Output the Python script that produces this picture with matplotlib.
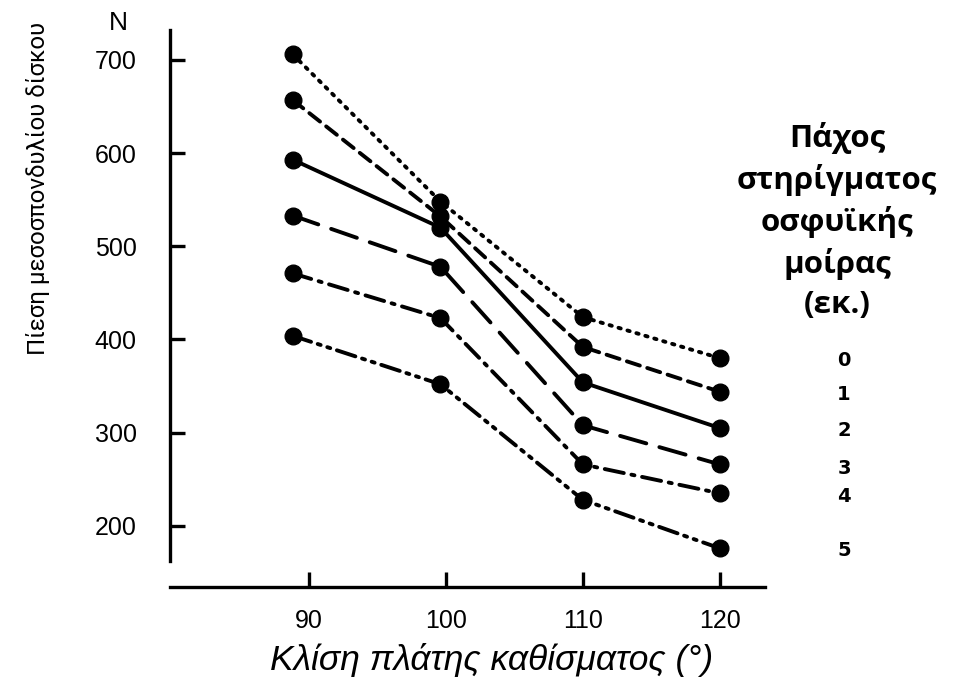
import matplotlib.pyplot as plt

# Seat back inclination (degrees) where the points sit
angles = [88.8, 99.6, 110, 120]
tick_angles = [90, 100, 110, 120]

# Disc pressure (N) for each lumbar support thickness (cm)
thickness_labels = ['0', '1', '2', '3', '4', '5']
p0 = [706, 548, 424, 380]
p1 = [657, 532, 392, 344]
p2 = [593, 520, 354, 305]
p3 = [533, 478, 308, 266]
p4 = [471, 423, 266, 235]
p5 = [404, 352, 228, 176]
series = [p0, p1, p2, p3, p4, p5]

y_ticks = [200, 300, 400, 500, 600, 700]

styles = [
    (0, (0.6, 1.8)),
    (0, (3.5, 2.0)),
    '-',
    (0, (7.0, 3.5)),
    (0, (5.0, 2.0, 0.8, 2.0)),
    (0, (5.0, 1.8, 0.8, 1.8, 0.8, 1.8)),
]

W, H = 955, 684
fig = plt.figure(figsize=(W / 100, H / 100), dpi=100)

# axes box in pixels: left 170, right 765, top 30, bottom 587
ax = fig.add_axes([170 / W, 1 - 587 / H, (765 - 170) / W, (587 - 30) / H])
ax.set_xlim(79.85, 123.3)
ax.set_ylim(134.5, 732)

for vals, ls in zip(series, styles):
    ax.plot(angles, vals, color='black', linestyle=ls, linewidth=2.8,
            marker='o', markersize=12, dash_capstyle='round',
            solid_capstyle='round')

for side in ['top', 'right']:
    ax.spines[side].set_visible(False)
ax.spines['left'].set_linewidth(2.4)
ax.spines['bottom'].set_linewidth(2.4)
ax.spines['left'].set_bounds(162, 732)

ax.set_xticks(tick_angles)
ax.set_xticklabels([str(t) for t in tick_angles])
ax.set_yticks(y_ticks)
ax.set_yticklabels([str(t) for t in y_ticks])
ax.tick_params(axis='both', direction='in', length=11, width=2.4,
               labelsize=18)
ax.tick_params(axis='y', pad=24)
ax.tick_params(axis='x', pad=16)
for lab in ax.get_xticklabels() + ax.get_yticklabels():
    lab.set_fontfamily('Liberation Sans')

fig.text(118 / W, 1 - 23 / H, 'N', fontsize=19, family='Liberation Sans',
         ha='center', va='center')
fig.text(38 / W, 1 - 188 / H, 'Πίεση μεσοσπονδυλίου δίσκου', fontsize=17.3,
         family='Roboto', rotation=90, ha='center', va='center')
fig.text(492 / W, 1 - 660 / H, 'Κλίση πλάτης καθίσματος (°)', fontsize=25.5,
         family='Liberation Sans', style='italic', ha='center', va='center')

fig.text(837 / W, 1 - 221 / H,
         'Πάχος\nστηρίγματος\nοσφυϊκής\nμοίρας\n(εκ.)',
         fontsize=22.5, family='Open Sans', fontweight='bold',
         ha='center', va='center', linespacing=1.4)

# thickness labels beside the line ends
label_y = [360, 394, 430, 469, 496, 551]
for lab, py in zip(thickness_labels, label_y):
    fig.text(844 / W, 1 - py / H, lab, fontsize=14, family='DejaVu Sans',
             fontweight='heavy', ha='center', va='center')

fig.savefig('out.png', dpi=100)
